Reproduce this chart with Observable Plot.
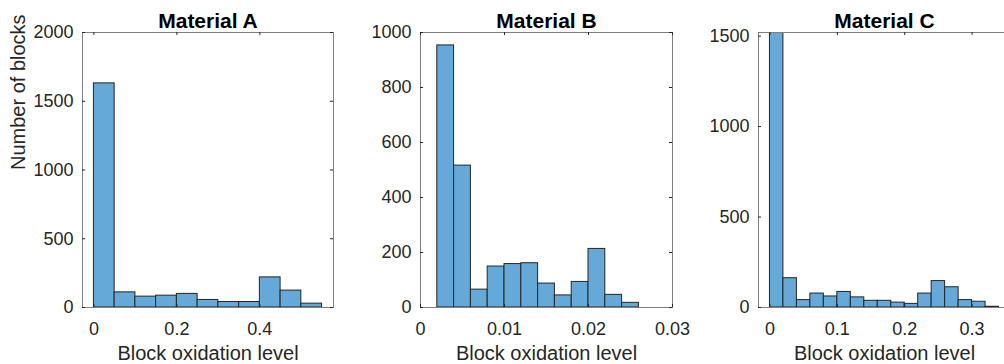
<!DOCTYPE html>
<html>
<head>
<meta charset="utf-8">
<script src="https://cdn.jsdelivr.net/npm/d3@7"></script>
<script src="https://cdn.jsdelivr.net/npm/@observablehq/plot@0.6"></script>
<style>
  html, body { margin: 0; padding: 0; background: #fff; }
  #fig { position: relative; width: 1004px; height: 364px; overflow: hidden; background: #fff; }
  #fig > svg { position: absolute; top: 0; }
</style>
</head>
<body>
<div id="fig"></div>
<script>
// Histogram bin edges and counts per material
const edgesA = [0, 0.05, 0.1, 0.15, 0.2, 0.25, 0.3, 0.35, 0.4, 0.45, 0.5, 0.55];
const countsA = [1630, 110, 79, 86, 99, 55, 40, 40, 219, 123, 28];

const edgesB = [0.002, 0.004, 0.006, 0.008, 0.010, 0.012, 0.014, 0.016, 0.018, 0.020, 0.022, 0.024, 0.026];
const countsB = [953, 516, 65, 149, 158, 161, 87, 44, 93, 213, 46, 17];

const edgesC = [0, 0.02, 0.04, 0.06, 0.08, 0.10, 0.12, 0.14, 0.16, 0.18, 0.20, 0.22, 0.24, 0.26, 0.28, 0.30, 0.32, 0.34];
const countsC = [1760, 162, 41, 77, 61, 86, 56, 37, 37, 27, 20, 77, 146, 112, 41, 32, 4];

// Axis limits and tick values
const xDomainA = [-0.0275, 0.5775];
const xDomainB = [0, 0.03];
const xDomainC = [-0.017, 0.357];
const yDomainA = [0, 2000];
const yDomainB = [0, 1000];
const yDomainC = [0, 1520];

const xTicksA = [0, 0.2, 0.4];
const xTicksB = [0, 0.01, 0.02, 0.03];
const xTicksC = [0, 0.1, 0.2, 0.3];
const yTicksA = [0, 500, 1000, 1500, 2000];
const yTicksB = [0, 200, 400, 600, 800, 1000];
const yTicksC = [0, 500, 1000, 1500];

const titles = ["Material A", "Material B", "Material C"];
const xLabel = "Block oxidation level";
const yLabel = "Number of blocks";

const FONT = '"Liberation Sans", Arial, Helvetica, sans-serif';
const BAR_FILL = "#64a9d7";
const BAR_EDGE = "#262626";
const BOX = "#808080";
const INK = "#262626";
const H = 364, MT = 32, MB = 57;
const FRAME_H = H - MT - MB;
const TICK_LEN = 3;

function histogram({title, edges, counts, xDomain, yDomain, xTicks, yTicks,
                    left, width, marginLeft, marginRight, withYLabel}) {
  const frameW = width - marginLeft - marginRight;
  const bins = counts.map((c, i) => ({x1: edges[i], x2: edges[i + 1], count: c}));
  const marks = [
    Plot.rectY(bins, {x1: "x1", x2: "x2", y: "count", fill: BAR_FILL,
                      stroke: BAR_EDGE, strokeWidth: 1, clip: true}),
    Plot.frame({stroke: BOX, strokeWidth: 1}),
    // inward tick marks on all four sides
    Plot.tickX(xTicks, {x: d => d, insetTop: FRAME_H - TICK_LEN, stroke: INK, strokeWidth: 1}),
    Plot.tickX(xTicks, {x: d => d, insetBottom: FRAME_H - TICK_LEN, stroke: INK, strokeWidth: 1}),
    Plot.tickY(yTicks, {y: d => d, insetRight: frameW - TICK_LEN, stroke: INK, strokeWidth: 1}),
    Plot.tickY(yTicks, {y: d => d, insetLeft: frameW - TICK_LEN, stroke: INK, strokeWidth: 1}),
    Plot.axisX({ticks: xTicks, tickSize: 0, tickPadding: 14.5, label: null,
                fontSize: 18, fill: INK, tickFormat: d => String(d)}),
    Plot.axisY({ticks: yTicks, tickSize: 0, tickPadding: 9, label: null,
                fontSize: 18, fill: INK, tickFormat: d => String(d)}),
    Plot.text([title], {frameAnchor: "top", dy: -11, lineAnchor: "middle",
                        fontSize: 21, fontWeight: "bold", fill: "#000"}),
    Plot.text([xLabel], {frameAnchor: "bottom", dy: 46, lineAnchor: "middle",
                         fontSize: 20, fill: INK})
  ];
  if (withYLabel) {
    marks.push(Plot.text([yLabel], {frameAnchor: "left", dx: -64, rotate: -90,
                                    lineAnchor: "middle", fontSize: 20, fill: INK}));
  }
  const svg = Plot.plot({
    width, height: H,
    marginLeft, marginRight, marginTop: MT, marginBottom: MB,
    x: {domain: xDomain},
    y: {domain: yDomain},
    style: {fontFamily: FONT, background: "transparent", overflow: "visible", color: INK},
    marks
  });
  svg.style.left = left + "px";
  return svg;
}

const fig = document.getElementById("fig");
fig.append(
  histogram({title: titles[0], edges: edgesA, counts: countsA, xDomain: xDomainA, yDomain: yDomainA,
             xTicks: xTicksA, yTicks: yTicksA, left: 0, width: 345, marginLeft: 82, marginRight: 12,
             withYLabel: true}),
  histogram({title: titles[1], edges: edgesB, counts: countsB, xDomain: xDomainB, yDomain: yDomainB,
             xTicks: xTicksB, yTicks: yTicksB, left: 345, width: 345, marginLeft: 75, marginRight: 18}),
  histogram({title: titles[2], edges: edgesC, counts: countsC, xDomain: xDomainC, yDomain: yDomainC,
             xTicks: xTicksC, yTicks: yTicksC, left: 690, width: 330, marginLeft: 68, marginRight: 10})
);
</script>
</body>
</html>
